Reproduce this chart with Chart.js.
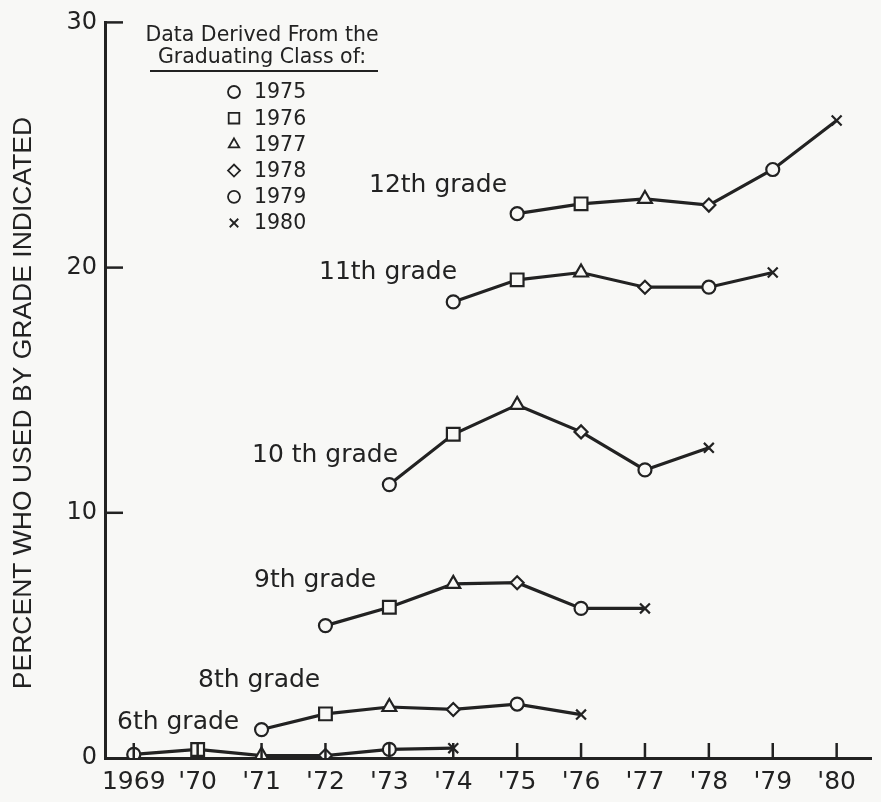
<!DOCTYPE html>
<html>
<head>
<meta charset="utf-8">
<script src="https://cdn.jsdelivr.net/npm/chart.js@4"></script>
<style>
  html, body { margin: 0; padding: 0; background: #f8f8f6; }
  #wrap { width: 881px; height: 802px; }
</style>
</head>
<body>
<div id="wrap"><canvas id="usageChart"></canvas></div>
<script>
// survey years on the x axis
const years = [1969, 1970, 1971, 1972, 1973, 1974, 1975, 1976, 1977, 1978, 1979, 1980];
const yTicks = [0, 10, 20, 30];

// graduating classes (legend) and their markers
const classYears = [1975, 1976, 1977, 1978, 1979, 1980];
const classMarkers = ['circle', 'rect', 'triangle', 'rectRot', 'circle', 'crossRot'];

// one line per grade: first survey year + percent values (class of '75 ... class of '80)
const gradeNames = ['12th grade', '11th grade', '10 th grade', '9th grade', '8th grade', '6th grade'];
const gradeLevels = [12, 11, 10, 9, 8, 6];
const grade12 = [22.2, 22.6, 22.8, 22.55, 24.0, 26.0];
const grade11 = [18.6, 19.5, 19.8, 19.2, 19.2, 19.8];
const grade10 = [11.15, 13.2, 14.4, 13.3, 11.75, 12.65];
const grade9 = [5.4, 6.15, 7.1, 7.15, 6.1, 6.1];
const grade8 = [1.16, 1.8, 2.08, 1.98, 2.2, 1.77];
const grade6 = [0.15, 0.35, 0.1, 0.1, 0.35, 0.4];
const gradeValues = [grade12, grade11, grade10, grade9, grade8, grade6];

const ink = '#222';
const paper = '#f8f8f6';
const fontFam = '"DejaVu Sans", sans-serif';

function markerSize(style) {
    if (style === 'rect') return 9;
    if (style === 'triangle') return 8;
    if (style === 'crossRot') return 7;
    return 6.5;
}

const datasets = gradeNames.map((name, i) => {
    const firstYear = 1975 - (12 - gradeLevels[i]);
    const styles = gradeValues[i].map((v, k) => classMarkers[k]);
    return {
        label: name,
        data: gradeValues[i].map((v, k) => ({ x: firstYear + k, y: v })),
        borderColor: ink,
        borderWidth: 3.2,
        pointStyle: styles,
        pointRadius: styles.map(markerSize),
        pointBackgroundColor: paper,
        pointBorderColor: ink,
        pointBorderWidth: 2.2,
        tension: 0
    };
});

// text labels next to each line (left edge, centre) in pixels
const gradeLabelSpots = [[369, 185], [319, 272], [252, 455], [254, 580], [198, 680], [117, 722]];

const extras = {
    id: 'extras',
    afterDraw(chart) {
        const ctx = chart.ctx;
        const xs = chart.scales.x, ys = chart.scales.y;
        ctx.save();
        ctx.strokeStyle = ink;
        ctx.lineWidth = 2.5;
        // inward ticks on the x axis
        years.forEach(yr => {
            const px = xs.getPixelForValue(yr);
            ctx.beginPath();
            ctx.moveTo(px, ys.bottom);
            ctx.lineTo(px, ys.bottom - 15);
            ctx.stroke();
        });
        // inward ticks on the y axis
        yTicks.slice(1).forEach(v => {
            const py = ys.getPixelForValue(v);
            ctx.beginPath();
            ctx.moveTo(xs.left, py);
            ctx.lineTo(xs.left + 18, py);
            ctx.stroke();
        });

        // y axis title
        ctx.fillStyle = ink;
        ctx.save();
        ctx.translate(24, 403);
        ctx.rotate(-Math.PI / 2);
        ctx.font = '26.5px "Liberation Sans", Arial, sans-serif';
        ctx.textAlign = 'center';
        ctx.textBaseline = 'middle';
        ctx.fillText('PERCENT WHO USED BY GRADE INDICATED', 0, 0);
        ctx.restore();

        // grade labels
        ctx.font = '25px ' + fontFam;
        ctx.textAlign = 'left';
        ctx.textBaseline = 'middle';
        gradeNames.forEach((n, i) => {
            ctx.fillText(n, gradeLabelSpots[i][0], gradeLabelSpots[i][1]);
        });

        // legend block
        ctx.font = '20.5px ' + fontFam;
        ctx.textAlign = 'center';
        ctx.fillText('Data Derived From the', 262, 36);
        ctx.fillText('Graduating Class of:', 262, 58);
        ctx.lineWidth = 2;
        ctx.beginPath();
        ctx.moveTo(150, 71);
        ctx.lineTo(378, 71);
        ctx.stroke();
        ctx.textAlign = 'left';
        ctx.font = '20.5px ' + fontFam;
        classYears.forEach((c, i) => {
            const ry = 92 + i * 26.2;
            ctx.fillStyle = paper;
            ctx.strokeStyle = ink;
            ctx.lineWidth = 1.8;
            Chart.helpers.drawPoint(ctx, {
                pointStyle: classMarkers[i],
                radius: classMarkers[i] === 'rect' ? 7.5 : 6,
                rotation: 0,
                borderWidth: 1.8
            }, 234, ry);
            ctx.fillStyle = ink;
            ctx.fillText(String(c), 254, ry + 1);
        });
        ctx.restore();
    }
};

new Chart(document.getElementById('usageChart'), {
    type: 'line',
    data: { datasets: datasets },
    plugins: [extras],
    options: {
        responsive: true,
        maintainAspectRatio: false,
        animation: false,
        layout: { padding: { top: 17, right: 4, left: 0, bottom: 0 } },
        plugins: {
            legend: { display: false },
            tooltip: { enabled: false }
        },
        scales: {
            x: {
                type: 'linear',
                min: 1968.55,
                max: 1980.55,
                afterFit: s => { s.height = 44; },
                afterBuildTicks: s => { s.ticks = years.map(v => ({ value: v })); },
                grid: { display: false, drawTicks: false },
                border: { display: true, color: ink, width: 3 },
                ticks: {
                    color: ink,
                    padding: 9,
                    maxRotation: 0,
                    autoSkip: false,
                    font: { family: fontFam, size: 25 },
                    callback: v => v === 1969 ? '1969' : "'" + String(v).slice(2)
                }
            },
            y: {
                min: 0,
                max: 30,
                afterFit: s => { s.width = 105; },
                afterBuildTicks: s => { s.ticks = yTicks.map(v => ({ value: v })); },
                grid: { display: false, drawTicks: false },
                border: { display: true, color: ink, width: 3 },
                ticks: {
                    color: ink,
                    padding: 8,
                    font: { family: fontFam, size: 24 }
                }
            }
        }
    }
});
</script>
</body>
</html>
